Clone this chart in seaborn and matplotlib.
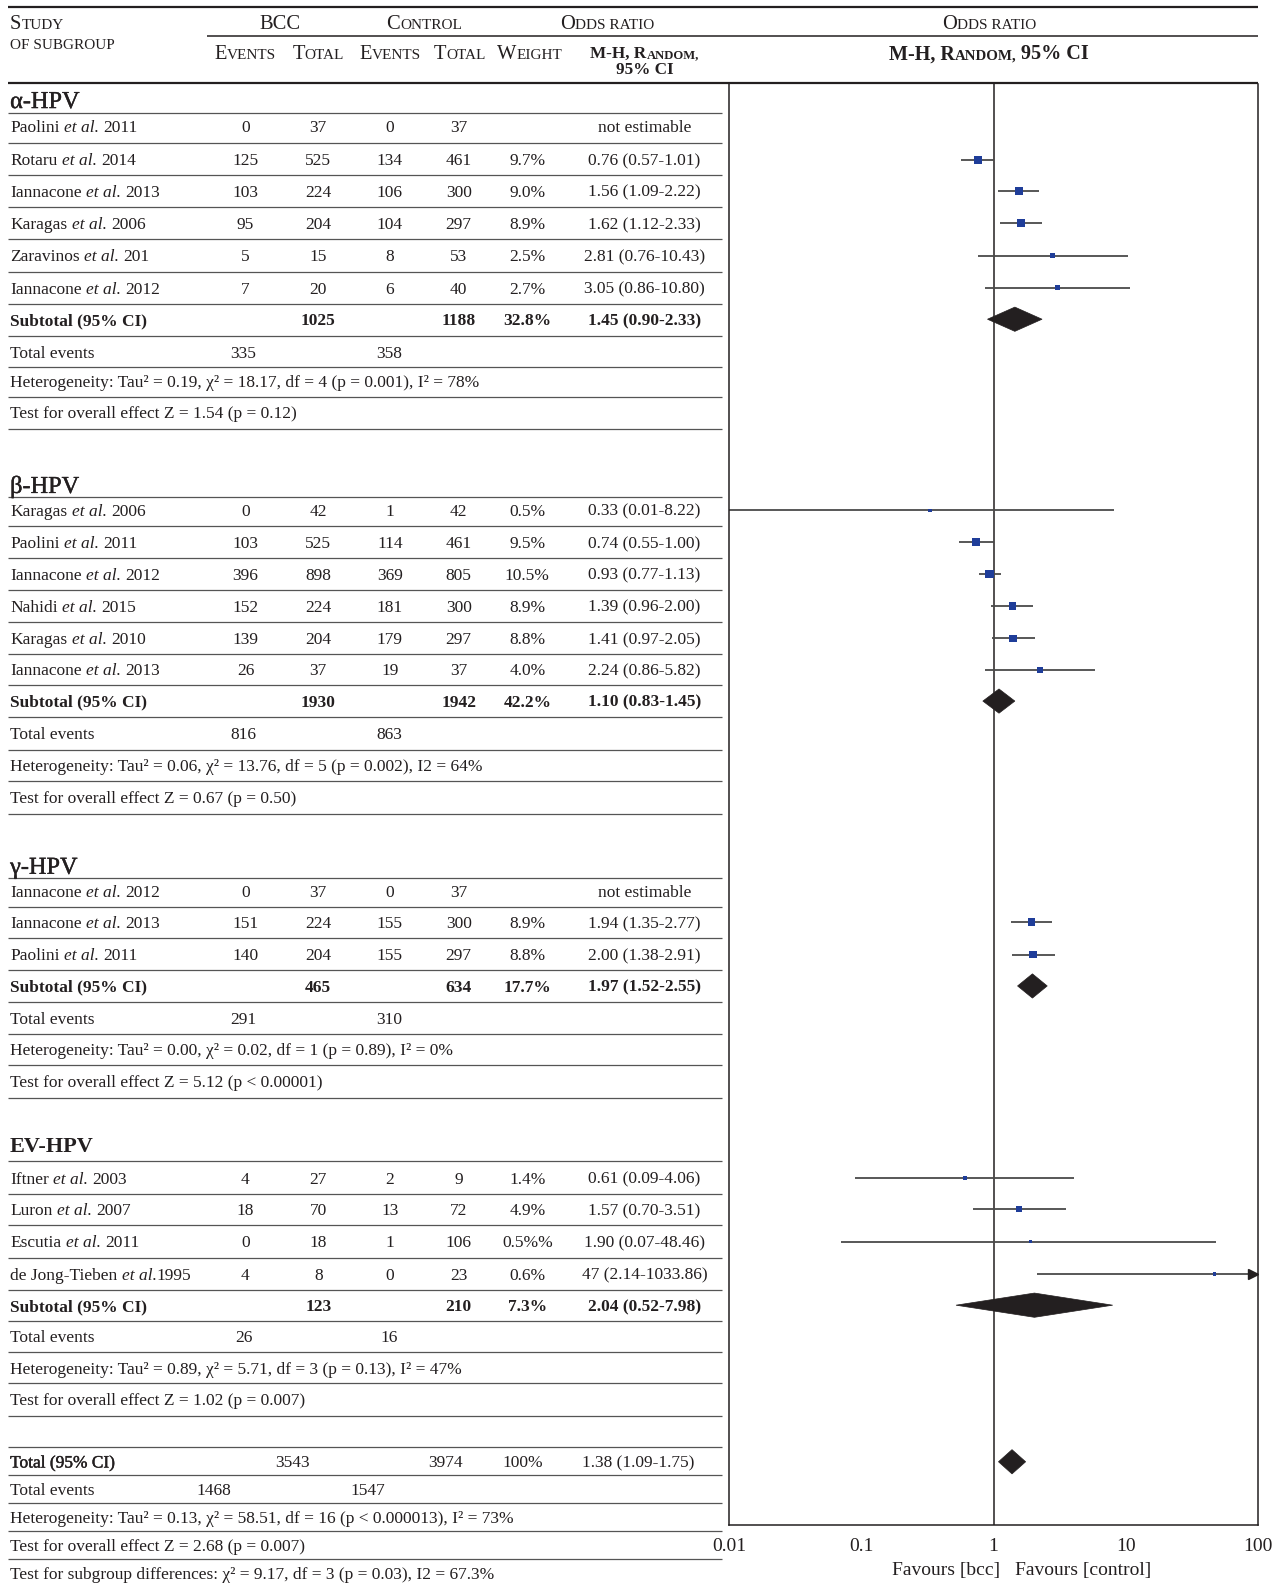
import matplotlib
matplotlib.use("Agg")
import matplotlib.pyplot as plt
import matplotlib.patheffects as pe
from matplotlib.patches import Polygon
from matplotlib.transforms import ScaledTranslation
import numpy as np
import pandas as pd
import seaborn as sns

# ---------------- data ----------------
alpha_studies = ["Paolini et al. 2011", "Rotaru et al. 2014", "Iannacone et al. 2013",
                 "Karagas et al. 2006", "Zaravinos et al. 201", "Iannacone et al. 2012"]
alpha_bcc_events = [0, 125, 103, 95, 5, 7]
alpha_bcc_total = [37, 525, 224, 204, 15, 20]
alpha_ctrl_events = [0, 134, 106, 104, 8, 6]
alpha_ctrl_total = [37, 461, 300, 297, 53, 40]
alpha_weight = ["", "9.7%", "9.0%", "8.9%", "2.5%", "2.7%"]
alpha_or = [None, 0.76, 1.56, 1.62, 2.81, 3.05]
alpha_lo = [None, 0.57, 1.09, 1.12, 0.76, 0.86]
alpha_hi = [None, 1.01, 2.22, 2.33, 10.43, 10.80]
alpha_sub_totals = [1025, 1188]
alpha_sub_weight = "32.8%"
alpha_sub_or = [1.45, 0.90, 2.33]
alpha_events = [335, 358]
alpha_het = "Heterogeneity: Tau² = 0.19, χ² = 18.17, df = 4 (p = 0.001), I² = 78%"
alpha_effect = "Test for overall effect Z = 1.54 (p = 0.12)"

beta_studies = ["Karagas et al. 2006", "Paolini et al. 2011", "Iannacone et al. 2012",
                "Nahidi et al. 2015", "Karagas et al. 2010", "Iannacone et al. 2013"]
beta_bcc_events = [0, 103, 396, 152, 139, 26]
beta_bcc_total = [42, 525, 898, 224, 204, 37]
beta_ctrl_events = [1, 114, 369, 181, 179, 19]
beta_ctrl_total = [42, 461, 805, 300, 297, 37]
beta_weight = ["0.5%", "9.5%", "10.5%", "8.9%", "8.8%", "4.0%"]
beta_or = [0.33, 0.74, 0.93, 1.39, 1.41, 2.24]
beta_lo = [0.01, 0.55, 0.77, 0.96, 0.97, 0.86]
beta_hi = [8.22, 1.00, 1.13, 2.00, 2.05, 5.82]
beta_sub_totals = [1930, 1942]
beta_sub_weight = "42.2%"
beta_sub_or = [1.10, 0.83, 1.45]
beta_events = [816, 863]
beta_het = "Heterogeneity: Tau² = 0.06, χ² = 13.76, df = 5 (p = 0.002), I2 = 64%"
beta_effect = "Test for overall effect Z = 0.67 (p = 0.50)"

gamma_studies = ["Iannacone et al. 2012", "Iannacone et al. 2013", "Paolini et al. 2011"]
gamma_bcc_events = [0, 151, 140]
gamma_bcc_total = [37, 224, 204]
gamma_ctrl_events = [0, 155, 155]
gamma_ctrl_total = [37, 300, 297]
gamma_weight = ["", "8.9%", "8.8%"]
gamma_or = [None, 1.94, 2.00]
gamma_lo = [None, 1.35, 1.38]
gamma_hi = [None, 2.77, 2.91]
gamma_sub_totals = [465, 634]
gamma_sub_weight = "17.7%"
gamma_sub_or = [1.97, 1.52, 2.55]
gamma_events = [291, 310]
gamma_het = "Heterogeneity: Tau² = 0.00, χ² = 0.02, df = 1 (p = 0.89), I² = 0%"
gamma_effect = "Test for overall effect Z = 5.12 (p < 0.00001)"

ev_studies = ["Iftner et al. 2003", "Luron et al. 2007", "Escutia et al. 2011",
              "de Jong-Tieben et al.1995"]
ev_bcc_events = [4, 18, 0, 4]
ev_bcc_total = [27, 70, 18, 8]
ev_ctrl_events = [2, 13, 1, 0]
ev_ctrl_total = [9, 72, 106, 23]
ev_weight = ["1.4%", "4.9%", "0.5%%", "0.6%"]
ev_or = [0.61, 1.57, 1.90, 47]
ev_lo = [0.09, 0.70, 0.07, 2.14]
ev_hi = [4.06, 3.51, 48.46, 1033.86]
ev_sub_totals = [123, 210]
ev_sub_weight = "7.3%"
ev_sub_or = [2.04, 0.52, 7.98]
ev_events = [26, 16]
ev_het = "Heterogeneity: Tau² = 0.89, χ² = 5.71, df = 3 (p = 0.13), I² = 47%"
ev_effect = "Test for overall effect Z = 1.02 (p = 0.007)"

overall_totals = [3543, 3974]
overall_weight = "100%"
overall_or = [1.38, 1.09, 1.75]
overall_events = [1468, 1547]
overall_het = "Heterogeneity: Tau² = 0.13, χ² = 58.51, df = 16 (p < 0.000013), I² = 73%"
overall_effect = "Test for overall effect Z = 2.68 (p = 0.007)"
subgroup_diff = "Test for subgroup differences: χ² = 9.17, df = 3 (p = 0.03), I2 = 67.3%"

axis_ticks = [0.01, 0.1, 1, 10, 100]
axis_labels = ["0.01", "0.1", "1", "10", "100"]

groups = [
    dict(title="α-HPV", studies=alpha_studies, be=alpha_bcc_events, bt=alpha_bcc_total,
         ce=alpha_ctrl_events, ct=alpha_ctrl_total, w=alpha_weight, est=alpha_or,
         lo=alpha_lo, hi=alpha_hi, sub=alpha_sub_totals, sw=alpha_sub_weight,
         sor=alpha_sub_or, ev=alpha_events, het=alpha_het, eff=alpha_effect, bold=False),
    dict(title="β-HPV", studies=beta_studies, be=beta_bcc_events, bt=beta_bcc_total,
         ce=beta_ctrl_events, ct=beta_ctrl_total, w=beta_weight, est=beta_or,
         lo=beta_lo, hi=beta_hi, sub=beta_sub_totals, sw=beta_sub_weight,
         sor=beta_sub_or, ev=beta_events, het=beta_het, eff=beta_effect, bold=False),
    dict(title="γ-HPV", studies=gamma_studies, be=gamma_bcc_events, bt=gamma_bcc_total,
         ce=gamma_ctrl_events, ct=gamma_ctrl_total, w=gamma_weight, est=gamma_or,
         lo=gamma_lo, hi=gamma_hi, sub=gamma_sub_totals, sw=gamma_sub_weight,
         sor=gamma_sub_or, ev=gamma_events, het=gamma_het, eff=gamma_effect, bold=False),
    dict(title="EV-HPV", studies=ev_studies, be=ev_bcc_events, bt=ev_bcc_total,
         ce=ev_ctrl_events, ct=ev_ctrl_total, w=ev_weight, est=ev_or,
         lo=ev_lo, hi=ev_hi, sub=ev_sub_totals, sw=ev_sub_weight,
         sor=ev_sub_or, ev=ev_events, het=ev_het, eff=ev_effect, bold=True),
]

# ---------------- layout (vertical row centres) ----------------
group_rows = [
    [98, 125, 158, 189, 221, 253, 285, 316, 349, 377, 408],
    [479, 505, 537, 568, 600, 632, 663, 694, 726, 758, 789],
    [856, 882, 913, 945, 976, 1008, 1039, 1070],
    [1132, 1166, 1197, 1229, 1261, 1292, 1323, 1354, 1385],
]
total_rows = [1447, 1474, 1502, 1530, 1557]

COL_NAME = 10
COL_BE, COL_BT, COL_CE, COL_CT, COL_W, COL_OR = 243, 315, 386, 454, 522, 638
LINE_X0, LINE_X1 = 8, 715
FX0, FX1, FY0, FY1 = 722, 1245, 83, 1510

# ---------------- style ----------------
sns.set_style("white")
plt.rcParams["font.family"] = ["Liberation Serif", "DejaVu Serif"]
INK = "#231f20"
RULE = "#555555"
SQUARE = "#1f3d99"
BODY = 12.5

W, H = 1283, 1584
SCALE = 1584 / 1568
fig = plt.figure(figsize=(W / 100, H / 100), dpi=100)
ax = fig.add_axes([0, 0, 1, 1])
ax.set_xlim(0, W / SCALE)
ax.set_ylim(H / SCALE, 0)
ax.axis("off")
renderer = fig.canvas.get_renderer()


def rich(x, y, runs, ha="left", size=BODY, **common):
    """Draw a line made of differently styled runs, aligned on one baseline."""
    base = y + 0.33 * size * 100 / 72 / SCALE
    items, total = [], 0.0
    for txt, kw in runs:
        props = dict(common)
        props.update(kw)
        sz = props.pop("size", size)
        sp = 0.25 * sz * 100 / 72 / SCALE
        lead = (len(txt) - len(txt.lstrip(" "))) * sp
        trail = (len(txt) - len(txt.rstrip(" "))) * sp
        core = txt.strip(" ")
        t = ax.text(0, base, core, fontsize=sz, va="baseline", ha="left",
                    color=props.pop("color", INK), **props)
        w = t.get_window_extent(renderer).width / SCALE if core else 0.0
        items.append((t, lead, w, trail))
        total += lead + w + trail
    x0 = x if ha == "left" else (x - total / 2 if ha == "center" else x - total)
    for t, lead, w, trail in items:
        t.set_x(x0 + lead)
        x0 += lead + w + trail


def txt(x, y, s, ha="center", size=BODY, **kw):
    rich(x, y, [(s, {})], ha=ha, size=size, **kw)


def smallcaps(text, size, ratio=0.74, **kw):
    runs, cur, cur_small = [], "", None
    for ch in text:
        if ch.isalpha():
            kind = ch.islower()
        elif ch.isdigit():
            kind = False
        else:
            kind = cur_small if cur_small is not None else False
        if cur and kind != cur_small:
            runs.append((cur.upper() if cur_small else cur,
                         dict(size=size * ratio if cur_small else size, **kw)))
            cur = ""
        cur += ch
        cur_small = kind
    runs.append((cur.upper() if cur_small else cur,
                 dict(size=size * ratio if cur_small else size, **kw)))
    return runs


def study_runs(label):
    head, tail = label.split("et al.")
    return [(head, {}), ("et al.", {"style": "italic"}), (tail, {})]


def fmt(v):
    return str(int(v)) if (v >= 10 and v == int(v)) else f"{v:.2f}"


def ci_text(v):
    return f"{fmt(v[0])} ({fmt(v[1])}-{fmt(v[2])})"


def rule(y, x0=LINE_X0, x1=LINE_X1, lw=0.9, color=RULE):
    ax.plot([x0, x1], [y, y], color=color, lw=lw, solid_capstyle="butt")


# ---------------- header ----------------
HS = 14.8
rule(7, 8, 1245, lw=1.6, color=INK)
rule(36, 205, 1245, lw=1.1, color=INK)
rule(82, 8, 1245, lw=1.6, color=INK)
rich(COL_NAME, 22, smallcaps("Study", HS), size=HS)
rich(COL_NAME, 42, smallcaps("of subgroup", HS), size=HS)
rich(277, 22, smallcaps("BCC", HS), ha="center", size=HS)
rich(420, 22, smallcaps("Control", HS), ha="center", size=HS)
rich(601, 22, smallcaps("Odds ratio", HS), ha="center", size=HS)
rich(979, 22, smallcaps("Odds ratio", HS), ha="center", size=HS)
for xc, lab in [(COL_BE, "Events"), (COL_BT, "Total"), (COL_CE, "Events"),
                (455, "Total"), (524, "Weight")]:
    rich(xc, 52, smallcaps(lab, HS), ha="center", size=HS)
rich(COL_OR, 52, smallcaps("M-H, Random,", 12.3, weight="bold"), ha="center", size=12.3)
rich(COL_OR, 68, [("95% CI", dict(weight="bold"))], ha="center", size=12.3)
rich(979, 52, smallcaps("M-H, Random, 95% CI", 14.5, weight="bold"), ha="center", size=14.5)

# ---------------- forest axes ----------------
fax = fig.add_axes([FX0 / (W / SCALE), 1 - FY1 / (H / SCALE),
                    (FX1 - FX0) / (W / SCALE), (FY1 - FY0) / (H / SCALE)])
fax.set_facecolor("none")

records = []
ci_rows = []
diamonds = []
semibold = [pe.withStroke(linewidth=0.3, foreground=INK)]

# ---------------- table body ----------------
for g, rows in zip(groups, group_rows):
    n = len(g["studies"])
    head_y = rows[0]
    study_y = rows[1:1 + n]
    sub_y, ev_y, het_y, eff_y = rows[1 + n:5 + n]
    if g["bold"]:
        rich(COL_NAME, head_y + 1, [(g["title"], dict(weight="bold"))], size=16)
    else:
        rich(COL_NAME, head_y + 1, [(g["title"], dict(path_effects=semibold))], size=17.5)
    for i, y in enumerate(study_y):
        rich(COL_NAME, y, study_runs(g["studies"][i]))
        txt(COL_BE, y, str(g["be"][i]))
        txt(COL_BT, y, str(g["bt"][i]))
        txt(COL_CE, y, str(g["ce"][i]))
        txt(COL_CT, y, str(g["ct"][i]))
        if g["est"][i] is None:
            txt(COL_OR, y, "not estimable")
            continue
        txt(COL_W, y, g["w"][i])
        txt(COL_OR, y, ci_text([g["est"][i], g["lo"][i], g["hi"][i]]))
        records.append(dict(est=g["est"][i], y=y,
                            weight=float(g["w"][i].replace("%", ""))))
        ci_rows.append((y, g["lo"][i], g["hi"][i]))
    rich(COL_NAME, sub_y, [("Subtotal (95% CI)", dict(weight="bold"))])
    txt(COL_BT, sub_y, str(g["sub"][0]), weight="bold")
    txt(COL_CT, sub_y, str(g["sub"][1]), weight="bold")
    txt(COL_W, sub_y, g["sw"], weight="bold")
    txt(COL_OR, sub_y, ci_text(g["sor"]), weight="bold")
    diamonds.append((sub_y, g["sor"]))
    txt(COL_NAME, ev_y, "Total events", ha="left")
    txt(241, ev_y, str(g["ev"][0]))
    txt(385, ev_y, str(g["ev"][1]))
    txt(COL_NAME, het_y, g["het"], ha="left")
    txt(COL_NAME, eff_y, g["eff"], ha="left")
    for a, b in zip(rows[:-1], rows[1:]):
        rule((a + b) / 2)
    rule(rows[-1] + 16.5)

# overall block
ty, tev, thet, teff, tsub = total_rows
txt(COL_NAME, ty, "Total (95% CI)", ha="left", path_effects=semibold)
txt(290, ty, str(overall_totals[0]))
txt(441, ty, str(overall_totals[1]))
txt(517, ty, overall_weight)
txt(632, ty, ci_text(overall_or))
diamonds.append((ty, overall_or))
txt(COL_NAME, tev, "Total events", ha="left")
txt(212, tev, str(overall_events[0]))
txt(364, tev, str(overall_events[1]))
txt(COL_NAME, thet, overall_het, ha="left")
txt(COL_NAME, teff, overall_effect, ha="left")
txt(COL_NAME, tsub, subgroup_diff, ha="left")
rule(ty - 15)
for a, b in zip(total_rows[:-1], total_rows[1:]):
    rule((a + b) / 2)

# ---------------- forest plot ----------------
fax.axvline(1, color=INK, lw=1.1, zorder=1)
for y, lo, hi in ci_rows:
    fax.hlines(y, lo, min(hi, axis_ticks[-1]), color="#4a4a4a", lw=1.3, zorder=2)
    if hi > axis_ticks[-1]:
        shift = fax.transData + ScaledTranslation(-3.5 / 72, 0, fig.dpi_scale_trans)
        fax.plot([axis_ticks[-1]], [y], marker=">", ms=7, color=INK,
                 transform=shift, clip_on=False, zorder=3)

df = pd.DataFrame(records)
sns.scatterplot(data=df, x="est", y="y", size="weight", sizes=(4, 36), size_norm=(0, 10.5),
                marker="s", color=SQUARE, edgecolor="none", linewidth=0,
                legend=False, ax=fax, zorder=4)

for y, (est, lo, hi) in diamonds:
    hh = 12
    fax.add_patch(Polygon([(lo, y), (est, y - hh), (hi, y), (est, y + hh)],
                          closed=True, facecolor=INK, edgecolor=INK, lw=0.5, zorder=5))

fax.set_xscale("log")
fax.set_xlim(axis_ticks[0], axis_ticks[-1])
fax.set_ylim(FY1, FY0)
fax.set_xticks(axis_ticks)
fax.set_xticklabels(axis_labels)
fax.minorticks_off()
fax.set_yticks([])
fax.set_xlabel("")
fax.set_ylabel("")
for side in ["left", "right", "bottom"]:
    fax.spines[side].set_visible(True)
    fax.spines[side].set_color(INK)
    fax.spines[side].set_linewidth(1.1)
fax.spines["top"].set_visible(False)
fax.tick_params(axis="x", direction="inout", length=12, width=1.1, color=INK,
                labelsize=14, labelcolor=INK, pad=3)

rich(990, 1553, [("Favours [bcc]", {})], ha="right", size=14)
rich(1005, 1553, [("Favours [control]", {})], ha="left", size=14)

fig.savefig("out.png", dpi=100)
